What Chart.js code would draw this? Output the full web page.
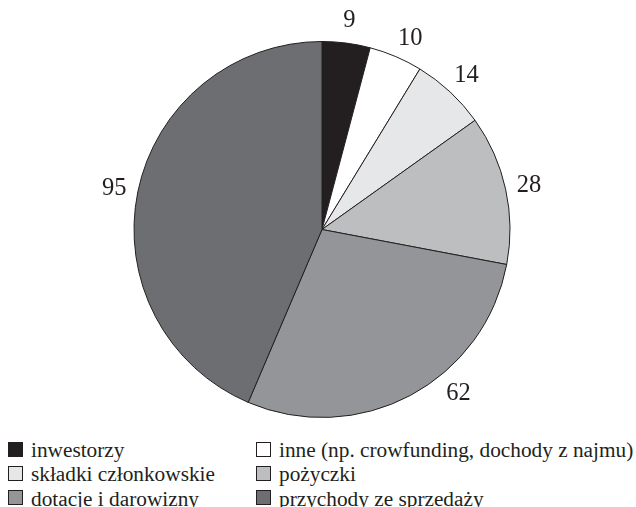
<!DOCTYPE html>
<html>
<head>
<meta charset="utf-8">
<script src="https://cdn.jsdelivr.net/npm/chart.js@4/dist/chart.umd.min.js"></script>
<style>
  html, body { margin:0; padding:0; background:#fff; }
  #wrap { position:relative; width:636px; height:507px; overflow:hidden; }
  #pie { position:absolute; left:0; top:0; }
  .lg-box { position:absolute; width:13px; height:13px; border:1px solid #231f20; }
  .lg-text { position:absolute; font:21.3px 'Liberation Serif', 'Times New Roman', serif; line-height:24px; color:#231f20; white-space:nowrap; }
</style>
</head>
<body>
<div id="wrap">
  <canvas id="pie" width="636" height="430"></canvas>
  <div id="legend"></div>
</div>
<script>
// Data
const labels = ['inwestorzy', 'inne (np. crowfunding, dochody z najmu)', 'składki członkowskie', 'pożyczki', 'dotacje i darowizny', 'przychody ze sprzedaży'];
const values = [9, 10, 14, 28, 62, 95];
const colors = ['#231f20', '#ffffff', '#e6e7e8', '#bcbec0', '#939598', '#6d6e71'];

// Value labels outside the slices
const outsideLabels = {
  id: 'outsideLabels',
  afterDatasetsDraw(chart, args, opts) {
    const ctx = chart.ctx;
    const meta = chart.getDatasetMeta(0);
    ctx.save();
    ctx.font = '24.5px "Liberation Serif", "Times New Roman", serif';
    ctx.fillStyle = '#231f20';
    ctx.textAlign = 'center';
    ctx.textBaseline = 'middle';
    meta.data.forEach((arc, i) => {
      const p = arc.getProps(['x', 'y', 'startAngle', 'endAngle', 'outerRadius'], true);
      const shift = (opts.shift && opts.shift[i] || 0) * Math.PI / 180;
      const a = (p.startAngle + p.endAngle) / 2 + shift;
      const r = p.outerRadius + opts.offset;
      ctx.fillText(String(values[i]), p.x + Math.cos(a) * r, p.y + Math.sin(a) * r + 1.5);
    });
    ctx.restore();
  }
};

const ctx = document.getElementById('pie').getContext('2d');
const pieChart = new Chart(ctx, {
  type: 'pie',
  data: { labels: labels, datasets: [{ data: values, backgroundColor: colors, borderColor: '#231f20', borderWidth: 1 }] },
  options: {
    responsive: false,
    animation: false,
    layout: { padding: { top: 41, left: 133, right: 125, bottom: 12 } },
    plugins: {
      legend: { display: false },
      tooltip: { enabled: false },
      outsideLabels: { offset: 24, shift: { 1: 1.5, 4: -12 } }
    }
  },
  plugins: [outsideLabels]
});

// Legend, two columns
const legendEl = document.getElementById('legend');
const colX = [8, 256];
const rowBase = [457.3, 481.6, 505.9];
labels.forEach((name, i) => {
  const x = colX[i % 2], base = rowBase[Math.floor(i / 2)];
  const box = document.createElement('div');
  box.className = 'lg-box';
  box.style.left = x + 'px';
  box.style.top = (base - 15.5) + 'px';
  box.style.background = colors[i];
  legendEl.appendChild(box);
  const txt = document.createElement('div');
  txt.className = 'lg-text';
  txt.style.left = (x + 23) + 'px';
  txt.style.top = (base - 19.2) + 'px';
  txt.textContent = name;
  legendEl.appendChild(txt);
});
</script>
</body>
</html>
